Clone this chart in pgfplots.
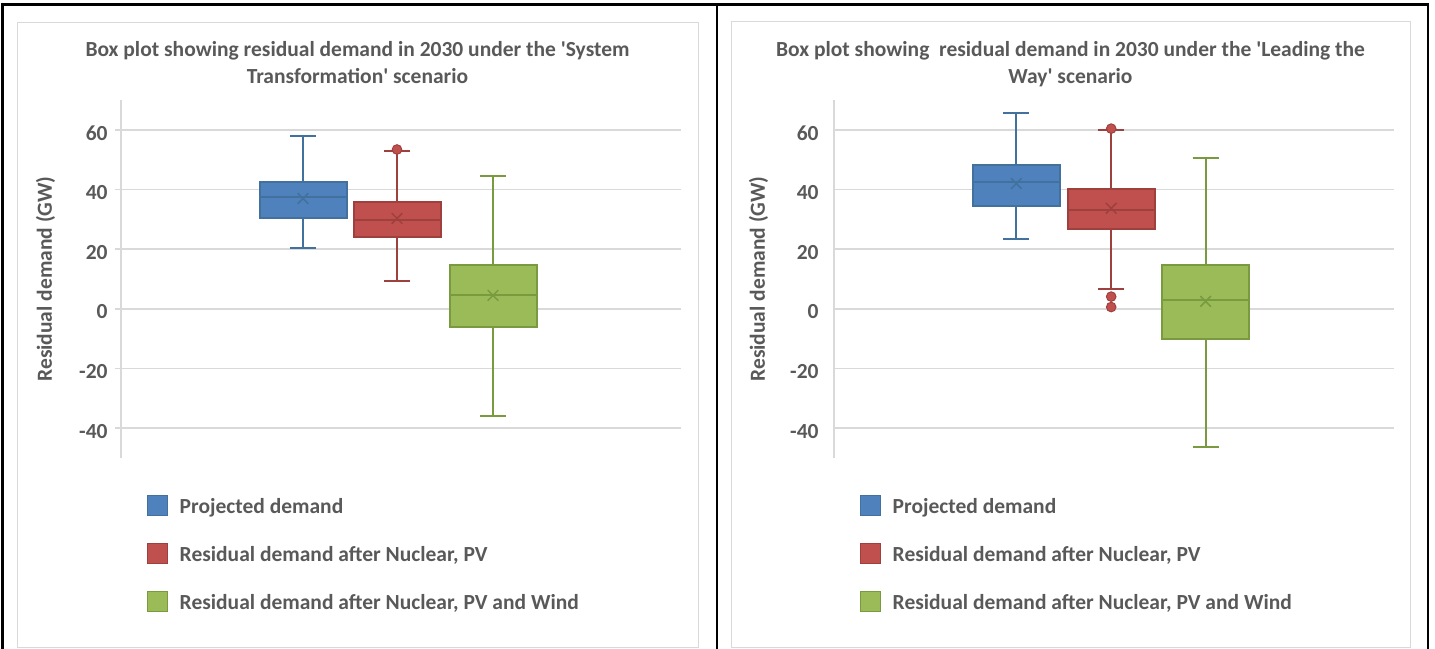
\documentclass[border=0pt]{standalone}
\usepackage{fontspec}
\setmainfont{Carlito}
\usepackage{pgfplots}
\pgfplotsset{compat=1.18}
\usepgfplotslibrary{statistics}
\definecolor{tc}{HTML}{595959}
\definecolor{gridc}{HTML}{D9D9D9}
\definecolor{bfill}{HTML}{4F81BD}
\definecolor{bdark}{HTML}{41719C}
\definecolor{rfill}{HTML}{C0504D}
\definecolor{rdark}{HTML}{9E413E}
\definecolor{gfill}{HTML}{9BBB59}
\definecolor{gdark}{HTML}{7A9A40}
\newcommand\lbl{\fontsize{10.75}{13.3}\selectfont\bfseries}
\pgfplotsset{
  panel/.style={
    scale only axis, width=280pt, height=179pt,
    xmin=0, xmax=560, ymin=-50, ymax=70,
    axis x line=none, axis y line*=left,
    axis line style={draw=gridc, line width=0.75pt},
    ytick={-40,-20,0,20,40,60},
    ymajorgrids, grid style={draw=gridc, line width=0.75pt},
    xtick=\empty,
    tick style={draw=gridc, line width=0.75pt},
    major tick length=3pt, tick align=outside,
    yticklabel style={font=\lbl, text=tc, inner xsep=0pt, xshift=-3.5pt, yshift=-1.5pt},
    /pgf/number format/assume math mode=true,
    every axis y label/.style={at={(axis description cs:-0.1348,0.5)}, rotate=90, anchor=center, font=\lbl, text=tc},
    ylabel={Residual demand (GW)},
    title style={at={(axis description cs:0.4223,1)}, anchor=north, yshift=23.5pt, font=\lbl, text=tc, align=center, inner sep=0pt},
    legend style={at={(axis description cs:0.0459,-0.1042)}, anchor=north west, draw=none, fill=none, font=\lbl, text=tc, row sep=12.5pt, column sep=6pt, inner sep=0pt, outer sep=0pt, nodes={inner sep=0pt, text height=8pt, text depth=2.5pt}},
    legend cell align=left,
    legend image code/.code={\draw[##1] (0pt,-4pt) rectangle (10pt,6pt);},
    boxplot/draw direction=y,
    boxplot/box extend=87, boxplot/whisker extend=26,
  },
  bbox/.style={forget plot, draw=#1dark, fill=#1fill, line width=1pt,
    boxplot/every median/.style={draw=#1dark, line width=1pt},
    mark=*, mark size=2.4pt, mark options={fill=#1fill, draw=#1dark, line width=0.5pt}},
  avg/.style={forget plot, only marks, mark=x, mark size=3.75pt, mark options={draw=#1dark, line width=0.75pt}},
}
\begin{document}
\begin{tikzpicture}
\useasboundingbox (0pt,0pt) rectangle (717.5pt,-324pt);
% frames
\draw[gridc, line width=0.5pt] (8.5pt,-11pt) rectangle (349pt,-323.5pt);
\draw[gridc, line width=0.5pt] (365.5pt,-10.75pt) rectangle (705pt,-323.5pt);
\draw[black, line width=1.25pt] (1.25pt,-335pt) -- (1.25pt,-2.25pt) -- (714pt,-2.25pt) -- (714pt,-335pt);
\draw[black, line width=1.25pt] (358.5pt,-2.25pt) -- (358.5pt,-335pt);

% Left panel
\begin{axis}[panel, at={(60.5pt,-229pt)}, anchor=south west,
  title={Box plot showing residual demand in 2030 under the \textquotesingle System\\Transformation\textquotesingle{} scenario}]
\addplot[bbox=b, boxplot prepared={draw position=182, lower whisker=20.5, lower quartile=30.5, median=37.4, upper quartile=42.6, upper whisker=58.0}] coordinates {};
\addplot[bbox=r, boxplot prepared={draw position=276, lower whisker=9.3, lower quartile=24.2, median=29.8, upper quartile=35.9, upper whisker=52.9}] coordinates {(0,53.4)};
\addplot[bbox=g, boxplot prepared={draw position=372, lower whisker=-35.8, lower quartile=-6.1, median=4.7, upper quartile=14.7, upper whisker=44.5}] coordinates {};
\addplot[avg=b] coordinates {(182,37.0)};
\addplot[avg=r] coordinates {(276,30.3)};
\addplot[avg=g] coordinates {(372,4.5)};
\addlegendimage{fill=bfill, draw=bdark, line width=0.5pt}
\addlegendentry{Projected demand}
\addlegendimage{fill=rfill, draw=rdark, line width=0.5pt}
\addlegendentry{Residual demand after Nuclear, PV}
\addlegendimage{fill=gfill, draw=gdark, line width=0.5pt}
\addlegendentry{Residual demand after Nuclear, PV and Wind}
\end{axis}

% Right panel
\begin{axis}[panel, at={(417pt,-229pt)}, anchor=south west, xmax=559,
  major tick length=0pt, yticklabel style={xshift=-4pt},
  title={Box plot showing\ \ residual demand in 2030 under the \textquotesingle Leading the\\Way\textquotesingle{} scenario}]
\addplot[bbox=b, boxplot prepared={draw position=182, lower whisker=23.3, lower quartile=34.5, median=42.4, upper quartile=48.2, upper whisker=65.7}] coordinates {};
\addplot[bbox=r, boxplot prepared={draw position=276.7, lower whisker=6.7, lower quartile=26.6, median=33.1, upper quartile=40.0, upper whisker=59.9}] coordinates {(0,60.4) (0,4.1) (0,0.6)};
\addplot[bbox=g, boxplot prepared={draw position=371, lower whisker=-46.3, lower quartile=-10.1, median=2.9, upper quartile=14.7, upper whisker=50.6}] coordinates {};
\addplot[avg=b] coordinates {(182,42.0)};
\addplot[avg=r] coordinates {(276.7,33.7)};
\addplot[avg=g] coordinates {(371,2.5)};
\addlegendimage{fill=bfill, draw=bdark, line width=0.5pt}
\addlegendentry{Projected demand}
\addlegendimage{fill=rfill, draw=rdark, line width=0.5pt}
\addlegendentry{Residual demand after Nuclear, PV}
\addlegendimage{fill=gfill, draw=gdark, line width=0.5pt}
\addlegendentry{Residual demand after Nuclear, PV and Wind}
\end{axis}
\end{tikzpicture}
\end{document}
